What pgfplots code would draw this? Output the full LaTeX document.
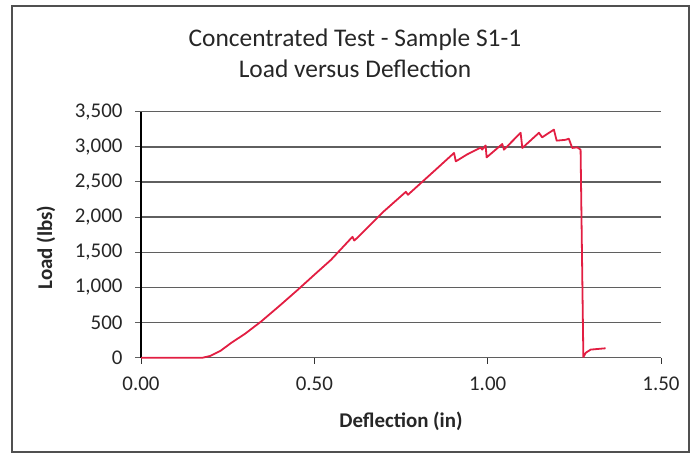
\documentclass[border=0pt]{standalone}
\usepackage{pgfplots}
\pgfplotsset{compat=1.18}
\usepackage{fontspec}
\setmainfont{Carlito}
\definecolor{redline}{RGB}{226,30,66}
\definecolor{gridc}{RGB}{95,95,95}
\definecolor{framec}{RGB}{80,80,80}
\begin{document}
\begin{tikzpicture}[x=1bp,y=1bp]
\useasboundingbox (0,0) rectangle (692,455);
\draw[line width=1.6bp, color=framec] (12,3) rectangle (689,449);
\node[anchor=base, font=\fontsize{25.5}{25.5}\selectfont, text=black!85] at (355,408) {Concentrated Test - Sample S1-1};
\node[anchor=base, font=\fontsize{25.5}{25.5}\selectfont, text=black!85] at (355,377) {Load versus Deflection};
\begin{axis}[
  at={(141bp,97.3bp)}, anchor=south west,
  scale only axis, width=520bp, height=246bp,
  xmin=0, xmax=1.5, ymin=0, ymax=3500,
  xtick={0,0.5,1,1.5}, ytick={0,500,...,3500},
  axis x line=bottom, axis y line=left,
  x axis line style={-, color=gridc, line width=1.4bp},
  y axis line style={-, color=black, line width=1.5bp},
  tick align=outside, major tick length=6bp,
  xtick style={color=black!80, line width=1bp},
  ytick style={color=gridc, line width=1bp},
  ymajorgrids, grid style={color=gridc, line width=1.4bp},
  ticklabel style={font=\fontsize{21}{21}\selectfont, text=black!85},
  /pgf/number format/assume math mode=true,
  yticklabel style={xshift=-9bp, /pgf/number format/.cd, 1000 sep={,}},
  xticklabel style={yshift=-10bp, /pgf/number format/.cd, fixed, fixed zerofill, precision=2},
  xlabel={\textbf{Deflection (in)}},
  ylabel={\textbf{Load (lbs)}},
  label style={font=\fontsize{21}{21}\selectfont, text=black!85},
  xlabel style={at={(axis description cs:0.5,-0.282)}, anchor=base},
  ylabel style={at={(axis description cs:-0.183,0.448)}, anchor=center},
  clip=false,
]
\addplot[color=redline, line width=1.8bp, line join=round] coordinates {
(0,0) (0.178,0) (0.20,25) (0.23,100) (0.26,210) (0.30,340) (0.346,513)
(0.40,740) (0.452,965) (0.50,1180) (0.548,1392) (0.61,1720) (0.615,1667)
(0.625,1710) (0.70,2080) (0.764,2360) (0.77,2318) (0.85,2675) (0.903,2913)
(0.908,2793) (0.94,2890) (0.98,2990) (0.984,2960) (0.994,3020) (0.997,2850)
(1.042,3040) (1.047,2960) (1.095,3200) (1.100,2984) (1.148,3200) (1.157,3135)
(1.191,3245) (1.199,3088) (1.225,3100) (1.234,3116) (1.244,2984) (1.258,2993)
(1.268,2960) (1.276,10) (1.283,70) (1.297,115) (1.34,134)
};
\end{axis}
\end{tikzpicture}
\end{document}
